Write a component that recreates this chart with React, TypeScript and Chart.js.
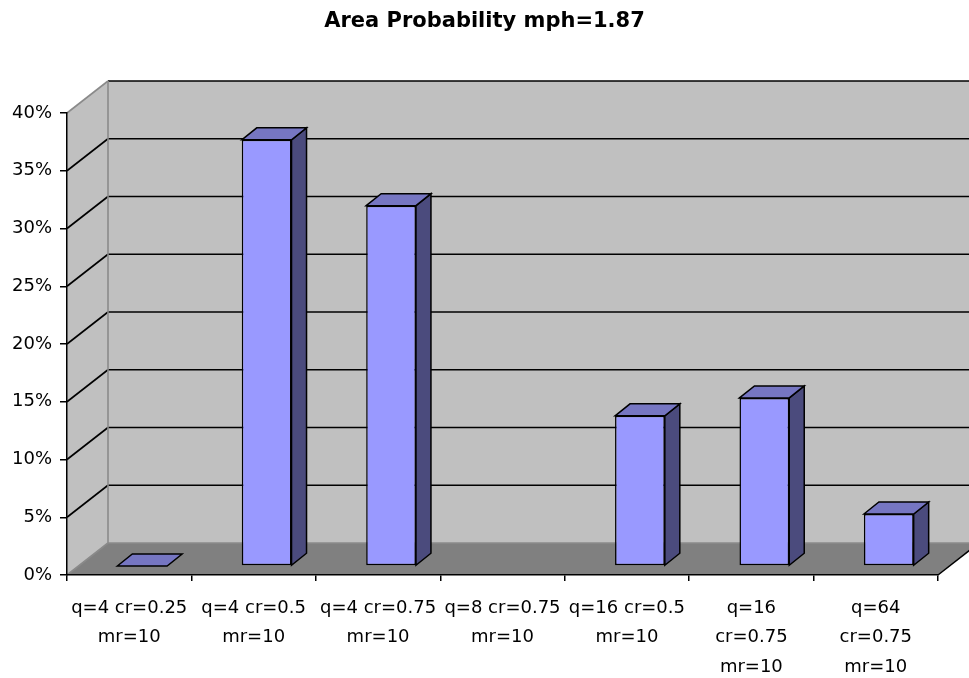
import React, { useEffect, useRef } from "react";
import { Chart, registerables } from "chart.js";

Chart.register(...registerables);

const chartTitle = "Area Probability mph=1.87";
const categories: string[][] = [
  ["q=4 cr=0.25", "mr=10"],
  ["q=4 cr=0.5", "mr=10"],
  ["q=4 cr=0.75", "mr=10"],
  ["q=8 cr=0.75", "mr=10"],
  ["q=16 cr=0.5", "mr=10"],
  ["q=16", "cr=0.75", "mr=10"],
  ["q=64", "cr=0.75", "mr=10"],
];
const probabilities: (number | null)[] = [0, 0.369, 0.312, null, 0.13, 0.1455, 0.045];
const yMin = 0;
const yMax = 0.4;
const yStep = 0.05;

// 3D look (styling only)
const WALL = { dx: 41, dy: -32 };
const BAR_FRONT = { dx: 13, dy: -9 };
const BAR_DEPTH = { dx: 15, dy: -12 };
const COLORS = {
  wall: "#c0c0c0",
  floor: "#808080",
  wallEdge: "#8a8a8a",
  barFront: "#9999ff",
  barTop: "#7676c2",
  barSide: "#4b4b7d",
};

const walls3d = {
  id: "walls3d",
  beforeDraw(chart: any) {
    const { ctx, chartArea, scales } = chart;
    const { left, right, top, bottom } = chartArea;
    const y = scales.y;
    const { dx, dy } = WALL;
    ctx.save();
    ctx.fillStyle = COLORS.wall;
    ctx.beginPath();
    ctx.moveTo(left, top);
    ctx.lineTo(left + dx, top + dy);
    ctx.lineTo(left + dx, bottom + dy);
    ctx.lineTo(left, bottom);
    ctx.closePath();
    ctx.fill();
    ctx.fillRect(left + dx, top + dy, right - left, bottom - top);
    ctx.fillStyle = COLORS.floor;
    ctx.beginPath();
    ctx.moveTo(left, bottom);
    ctx.lineTo(right, bottom);
    ctx.lineTo(right + dx, bottom + dy);
    ctx.lineTo(left + dx, bottom + dy);
    ctx.closePath();
    ctx.fill();
    ctx.strokeStyle = "#000";
    ctx.lineWidth = 1.5;
    ctx.beginPath();
    ctx.moveTo(right, bottom);
    ctx.lineTo(right + dx, bottom + dy);
    ctx.stroke();
    y.ticks.forEach((t: any) => {
      const py = y.getPixelForValue(t.value);
      if (t.value <= 0.0001) return;
      ctx.strokeStyle = "#000";
      ctx.lineWidth = 1.6;
      ctx.beginPath();
      ctx.moveTo(left + dx, py + dy);
      ctx.lineTo(right + dx, py + dy);
      ctx.stroke();
      const isTop = Math.abs(t.value - yMax) < 0.0001;
      ctx.strokeStyle = isTop ? COLORS.wallEdge : "#000";
      ctx.beginPath();
      ctx.moveTo(left, py);
      ctx.lineTo(left + dx, py + dy);
      ctx.stroke();
    });
    ctx.strokeStyle = COLORS.wallEdge;
    ctx.lineWidth = 1.6;
    ctx.beginPath();
    ctx.moveTo(left + dx, top + dy);
    ctx.lineTo(left + dx, bottom + dy);
    ctx.lineTo(right + dx, bottom + dy);
    ctx.moveTo(left, bottom);
    ctx.lineTo(left + dx, bottom + dy);
    ctx.stroke();
    ctx.restore();
  },
  beforeDatasetsDraw(chart: any) {
    const { ctx } = chart;
    ctx.save();
    ctx.translate(BAR_FRONT.dx, BAR_FRONT.dy);
  },
  afterDatasetsDraw(chart: any) {
    const { ctx } = chart;
    const meta = chart.getDatasetMeta(0);
    const data = chart.data.datasets[0].data;
    ctx.lineWidth = 1.5;
    ctx.strokeStyle = "#000";
    ctx.lineJoin = "miter";
    meta.data.forEach((el: any, i: number) => {
      if (data[i] === null || data[i] === undefined) return;
      const { x, y, base, width } = el.getProps(["x", "y", "base", "width"], true);
      const l = x - width / 2;
      const r = x + width / 2;
      const { dx, dy } = BAR_DEPTH;
      if (Math.abs(base - y) > 0.5) {
        ctx.fillStyle = COLORS.barSide;
        ctx.beginPath();
        ctx.moveTo(r, y);
        ctx.lineTo(r + dx, y + dy);
        ctx.lineTo(r + dx, base + dy);
        ctx.lineTo(r, base);
        ctx.closePath();
        ctx.fill();
        ctx.stroke();
      }
      ctx.fillStyle = COLORS.barTop;
      ctx.beginPath();
      ctx.moveTo(l, y);
      ctx.lineTo(l + dx, y + dy);
      ctx.lineTo(r + dx, y + dy);
      ctx.lineTo(r, y);
      ctx.closePath();
      ctx.fill();
      ctx.stroke();
    });
    ctx.restore();
  },
};

export default function App() {
  const ref = useRef<HTMLCanvasElement>(null);
  useEffect(() => {
    if (!ref.current) return;
    const chart = new Chart(ref.current, {
      type: "bar",
      data: {
        labels: categories,
        datasets: [
          {
            data: probabilities,
            backgroundColor: COLORS.barFront,
            borderColor: "#000",
            borderWidth: 1.5,
            borderSkipped: false,
            barPercentage: 0.4,
            categoryPercentage: 1,
            clip: false,
          } as any,
        ],
      },
      options: {
        responsive: false,
        animation: false,
        layout: { padding: { left: 0, right: 0, top: 0, bottom: 0 } },
        plugins: {
          legend: { display: false },
          tooltip: { enabled: false },
          title: {
            display: true,
            text: chartTitle,
            color: "#000",
            font: { family: "'DejaVu Sans', sans-serif", size: 21, weight: "bold" },
            padding: { top: 9, bottom: 78.8 },
          },
        },
        scales: {
          x: {
            grid: {
              offset: true,
              drawOnChartArea: false,
              drawTicks: true,
              tickLength: 6,
              color: "#000",
              lineWidth: 1.5,
            },
            border: { display: true, color: "#000", width: 1.5 },
            ticks: {
              color: "#000",
              autoSkip: false,
              maxRotation: 0,
              padding: 13,
              font: { family: "'DejaVu Sans', sans-serif", size: 18, lineHeight: 1.62 },
            },
            afterFit: (s: any) => {
              s.height = 103;
            },
          },
          y: {
            min: yMin,
            max: yMax,
            grid: {
              drawOnChartArea: false,
              drawTicks: true,
              tickLength: 7,
              color: "#000",
              lineWidth: 1.5,
            },
            border: { display: true, color: "#000", width: 1.5 },
            ticks: {
              stepSize: yStep,
              color: "#000",
              padding: 8,
              font: { family: "'DejaVu Sans', sans-serif", size: 18 },
              callback: (v: any) => Math.round(Number(v) * 100) + "%",
            },
            afterFit: (s: any) => {
              s.width = 67;
            },
          },
          spacer: {
            type: "linear",
            position: "right",
            display: true,
            grid: { display: false, drawTicks: false },
            border: { display: false },
            ticks: { display: false },
            afterFit: (s: any) => {
              s.width = 31;
            },
          } as any,
        },
      },
      plugins: [walls3d],
    });
    return () => chart.destroy();
  }, []);
  return (
    <div style={{ position: "absolute", left: 0, top: 0, width: 969, height: 678, background: "#fff" }}>
      <canvas ref={ref} width={969} height={678} />
    </div>
  );
}
